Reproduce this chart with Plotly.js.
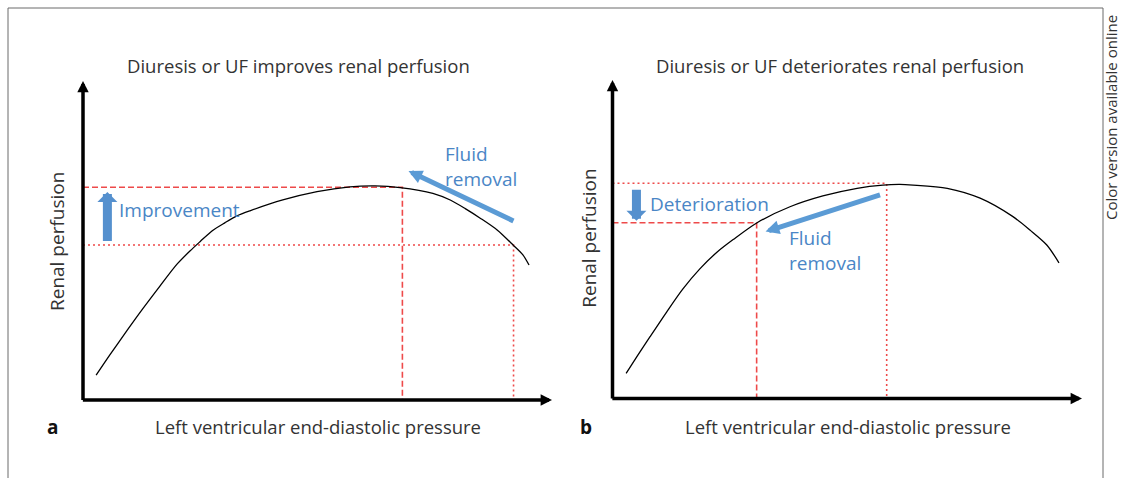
<!DOCTYPE html>
<html>
<head>
<meta charset="utf-8">
<script src="https://cdn.plot.ly/plotly-3.0.1.min.js"></script>
<style>html,body{margin:0;padding:0;background:#fff;}#chart{width:1122px;height:478px;}</style>
</head>
<body>
<div id="chart"></div>
<script>
// ---- Data (arbitrary units: axis origin = 0, arrow tips = 100) ----
// Panel a curve: renal perfusion vs LVEDP
const curveA_x = [2.8, 5.8, 9.4, 12.8, 16.4, 20.0, 22.8, 25.0, 27.5, 30.3, 32.8, 35.6, 42.6, 49.9, 56.9, 62.3, 67.6, 74.6, 78.3, 81.5, 84.7, 88.3, 91.7, 93.8, 95.1];
const curveA_y = [7.8, 14.3, 21.8, 28.7, 35.7, 42.5, 46.7, 49.7, 53.0, 55.6, 57.7, 59.3, 62.7, 65.3, 66.8, 67.1, 66.6, 64.8, 62.7, 60.0, 57.0, 53.3, 48.6, 45.5, 42.3];
// Panel b curve
const curveB_x = [2.9, 5.4, 8.0, 11.6, 15.0, 18.6, 22.3, 25.7, 30.8, 37.8, 44.8, 52.1, 57.6, 61.2, 64.0, 71.3, 78.3, 85.3, 88.9, 92.5, 95.1];
const curveB_y = [7.9, 13.6, 19.4, 27.3, 34.4, 40.7, 46.0, 49.9, 55.2, 60.2, 63.6, 66.0, 67.0, 67.2, 67.0, 66.0, 62.9, 57.1, 52.9, 48.2, 42.6];

// Reference (red) lines
const refA_dash_x = [0, 68.1, 68.1];
const refA_dash_y = [66.7, 66.7, 0];
const refA_dot_x = [0, 91.8, 91.8];
const refA_dot_y = [48.6, 48.6, 0];
const refB_dot_x = [0, 58.4, 58.4];
const refB_dot_y = [67.6, 67.6, 0];
const refB_dash_x = [0, 30.7, 30.7];
const refB_dash_y = [55.2, 55.2, 0];

// Arrows: [tailX, tailY, tipX, tipY]
const improveArrow = [5.2, 49.4, 5.2, 65.2];
const deteriorArrow = [5.1, 66.0, 5.1, 55.8];
const fluidArrowA = [92.1, 55.9, 69.4, 71.8];
const fluidArrowB = [57.3, 64.1, 32.6, 52.4];

// Texts
const titles = ["Diuresis or UF improves renal perfusion", "Diuresis or UF deteriorates renal perfusion"];
const xLabel = "Left ventricular end-diastolic pressure";
const yLabel = "Renal perfusion";
const panelLabels = ["a", "b"];
const changeLabels = ["Improvement", "Deterioration"];
const fluidLabel = "Fluid<br>removal";
const sideNote = "Color version available online";

// ---- Styles ----
const FONT = "Open Sans, Noto Sans, sans-serif";
const RED = "#EE4A4A";
const BLUE_TXT = "#4A86C6";
const BLUE_ARROW = "#5B9BD5";
const BLUE_BLOCK = "#5590CE";
const GREY_TXT = "#333333";

function line(x, y, xa, ya, color, width, dash) {
  return {x: x, y: y, xaxis: xa, yaxis: ya, mode: "lines", hoverinfo: "skip",
          line: {color: color, width: width, dash: dash || "solid", shape: dash ? "linear" : "spline", smoothing: 0.8}};
}

const traces = [
  line(refA_dash_x, refA_dash_y, "x", "y", RED, 1.6, "6px,3px"),
  line(refA_dot_x, refA_dot_y, "x", "y", RED, 1.6, "2px,3px"),
  line(refB_dot_x, refB_dot_y, "x2", "y2", RED, 1.6, "2px,3px"),
  line(refB_dash_x, refB_dash_y, "x2", "y2", RED, 1.6, "6px,3px"),
  line(curveA_x, curveA_y, "x", "y", "#000000", 1.3),
  line(curveB_x, curveB_y, "x2", "y2", "#000000", 1.3)
];

function arrowAnn(xr, yr, a, color, width, head, size) {
  return {xref: xr, yref: yr, axref: xr, ayref: yr, x: a[2], y: a[3], ax: a[0], ay: a[1],
          text: "", showarrow: true, arrowhead: head, arrowsize: size, arrowwidth: width,
          arrowcolor: color, standoff: 0, startstandoff: 0};
}
function txt(text, x, y, xr, yr, size, color, opts) {
  return Object.assign({text: text, x: x, y: y, xref: xr, yref: yr, showarrow: false,
          font: {family: FONT, size: size, color: color}, xanchor: "center", yanchor: "middle"}, opts || {});
}

const annotations = [
  // axes as arrows
  arrowAnn("x", "y", [-0.35, 0, 100, 0], "#000", 3.5, 2, 0.65),
  arrowAnn("x", "y", [0, -0.5, 0, 100], "#000", 3.5, 2, 0.65),
  arrowAnn("x2", "y2", [-0.35, 0, 100, 0], "#000", 3.5, 2, 0.65),
  arrowAnn("x2", "y2", [0, -0.5, 0, 100], "#000", 3.5, 2, 0.65),
  // block arrows
  arrowAnn("x", "y", improveArrow, BLUE_BLOCK, 9, 1, 0.37),
  arrowAnn("x2", "y2", deteriorArrow, BLUE_BLOCK, 9, 1, 0.37),
  // fluid removal arrows
  arrowAnn("x", "y", fluidArrowA, BLUE_ARROW, 5, 2, 0.55),
  arrowAnn("x2", "y2", fluidArrowB, BLUE_ARROW, 5, 2, 0.55),
  // blue texts
  txt(changeLabels[0], 7.2, 59.6, "x", "y", 19, BLUE_TXT, {xanchor: "left"}),
  txt(changeLabels[1], 7.6, 61.1, "x2", "y2", 19, BLUE_TXT, {xanchor: "left"}),
  txt(fluidLabel, 76.7, 73.2, "x", "y", 19, BLUE_TXT, {xanchor: "left", align: "left"}),
  txt(fluidLabel, 37.2, 46.5, "x2", "y2", 19, BLUE_TXT, {xanchor: "left", align: "left"}),
  // titles
  txt(titles[0], 0.2662, 0.864, "paper", "paper", 18.5, GREY_TXT),
  txt(titles[1], 0.7487, 0.864, "paper", "paper", 18.5, GREY_TXT),
  // axis labels
  txt(xLabel, 0.2834, 0.1067, "paper", "paper", 18.5, GREY_TXT),
  txt(xLabel, 0.7558, 0.1067, "paper", "paper", 18.5, GREY_TXT),
  txt(yLabel, 0.0508, 0.4958, "paper", "paper", 19, GREY_TXT, {textangle: -90}),
  txt(yLabel, 0.5247, 0.5020, "paper", "paper", 19, GREY_TXT, {textangle: -90}),
  // panel letters
  txt("<b>" + panelLabels[0] + "</b>", 0.0472, 0.1067, "paper", "paper", 19, "#111"),
  txt("<b>" + panelLabels[1] + "</b>", 0.5223, 0.1067, "paper", "paper", 19, "#111"),
  // side note
  txt(sideNote, 0.9902, 0.753, "paper", "paper", 15, GREY_TXT, {textangle: -90, borderpad: 0})
];

const frameColor = "#6b6b6b";
const shapes = [
  {type: "line", xref: "paper", yref: "paper", x0: 8/1122, x1: 8/1122, y0: 0, y1: 470/478, line: {color: frameColor, width: 1}},
  {type: "line", xref: "paper", yref: "paper", x0: 8/1122, x1: 1103/1122, y0: 470/478, y1: 470/478, line: {color: frameColor, width: 1}},
  {type: "line", xref: "paper", yref: "paper", x0: 1103/1122, x1: 1103/1122, y0: 0, y1: 470/478, line: {color: frameColor, width: 1}}
];

const axisBase = {range: [0, 100], visible: false, fixedrange: true};
const layout = {
  width: 1122, height: 478, autosize: false,
  margin: {l: 0, r: 0, t: 0, b: 0, pad: 0},
  paper_bgcolor: "#ffffff", plot_bgcolor: "rgba(0,0,0,0)",
  showlegend: false,
  xaxis: Object.assign({}, axisBase, {domain: [83/1122, 552/1122], anchor: "y"}),
  yaxis: Object.assign({}, axisBase, {domain: [78/478, 397/478], anchor: "x"}),
  xaxis2: Object.assign({}, axisBase, {domain: [612.5/1122, 1082/1122], anchor: "y2"}),
  yaxis2: Object.assign({}, axisBase, {domain: [79.5/478, 398/478], anchor: "x2"}),
  annotations: annotations,
  shapes: shapes
};

Plotly.newPlot("chart", traces, layout, {displayModeBar: false, staticPlot: true});
</script>
</body>
</html>
